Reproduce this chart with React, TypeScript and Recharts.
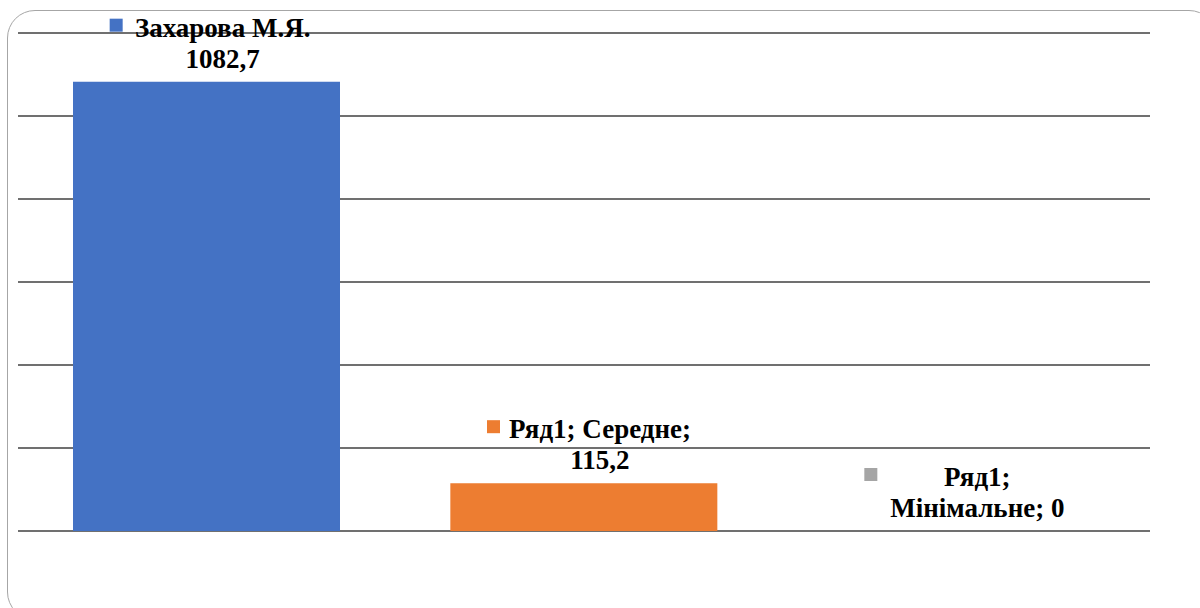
import React from 'react';
import { ComposedChart, Bar, Line, XAxis, YAxis, CartesianGrid, Cell, LabelList } from 'recharts';

const categories = ['Захарова М.Я.', 'Середне', 'Мінімальне'];
const values = [1082.7, 115.2, 0];
const colors = ['#4472C4', '#ED7D31', '#A5A5A5'];
const labelLine1 = ['Захарова М.Я.', 'Ряд1; Середне;', 'Ряд1;'];
const labelLine2 = ['1082,7', '115,2', 'Мінімальне; 0'];
const yTicks = [0, 200, 400, 600, 800, 1000, 1200];

const data = categories.map((c, i) => ({ name: c, value: values[i], color: colors[i] }));

const FONT = '"Liberation Serif", "Times New Roman", serif';

const renderLabel = (props: any) => {
  const { x, y, index } = props;
  const cx = Number(x);
  const top = Number(y);
  const base2 = top - 14;
  const base1 = base2 - 31;
  const tx = cx + 16;
  return (
    <g key={`lbl-${index}`}>
      <rect x={cx - 97} y={base1 - 18} width={13} height={13} fill={colors[index]} />
      <text x={tx} y={base1} textAnchor="middle" fontFamily={FONT} fontWeight="bold" fontSize={27} fill="#000">
        {labelLine1[index]}
      </text>
      <text x={tx} y={base2} textAnchor="middle" fontFamily={FONT} fontWeight="bold" fontSize={27} fill="#000">
        {labelLine2[index]}
      </text>
    </g>
  );
};

export default function App() {
  return (
    <div style={{ position: 'absolute', left: 0, top: 0, width: 1200, height: 608, overflow: 'hidden', background: '#fff' }}>
      <div
        style={{
          position: 'absolute',
          left: 7,
          top: 10,
          width: 1210,
          height: 610,
          border: '1.5px solid #a6a6a6',
          borderRadius: 28,
          boxSizing: 'border-box',
        }}
      />
      <div style={{ position: 'absolute', left: 0, top: 0 }}>
        <ComposedChart
          width={1200}
          height={608}
          data={data}
          margin={{ top: 33, right: 50, bottom: 77, left: 18 }}
          barCategoryGap={55}
        >
          <CartesianGrid vertical={false} stroke="#404040" strokeWidth={1.5} />
          <XAxis dataKey="name" hide />
          <YAxis hide domain={[0, 1200]} ticks={yTicks} />
          <Bar dataKey="value" isAnimationActive={false}>
            {data.map((d, i) => (
              <Cell key={i} fill={d.color} />
            ))}
          </Bar>
          <Line
            dataKey="value"
            stroke="none"
            dot={false}
            activeDot={false}
            isAnimationActive={false}
          >
            <LabelList dataKey="value" content={renderLabel} />
          </Line>
        </ComposedChart>
      </div>
    </div>
  );
}
